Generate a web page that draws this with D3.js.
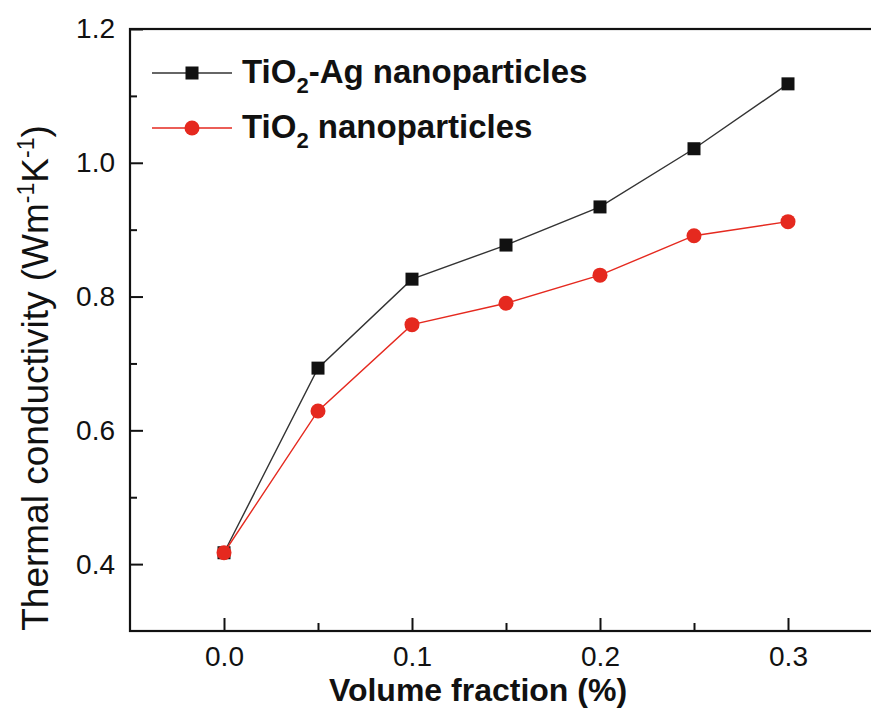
<!DOCTYPE html>
<html>
<head>
<meta charset="utf-8">
<script src="https://cdn.jsdelivr.net/npm/d3@7"></script>
<style>
	body { margin: 0; background: #fff; }
	svg { display: block; font-family: "Liberation Sans", Arial, sans-serif; }
</style>
</head>
<body>
<svg id="chart" width="871" height="708"></svg>
<script>

// volume fraction (%)
const FRACTIONS = [0.0, 0.05, 0.10, 0.15, 0.20, 0.25, 0.30];

// thermal conductivity (W m-1 K-1)
const TIO2_AG = [0.417, 0.693, 0.826, 0.877, 0.934, 1.021, 1.118];
const TIO2 = [0.417, 0.629, 0.758, 0.790, 0.832, 0.891, 0.912];

const X_TICKS = [0.0, 0.1, 0.2, 0.3];
const X_MINOR = [0.05, 0.15, 0.25];
const Y_TICKS = [0.4, 0.6, 0.8, 1.0, 1.2];
const Y_MINOR = [0.5, 0.7, 0.9, 1.1];

const X_DOMAIN = [-0.05, 0.35];
const Y_DOMAIN = [0.3, 1.2];

const BLACK = '#111';
const LINE_BLACK = '#333';
const RED = '#e5291f';

class Chart {

	constructor(element){
		this.svg = d3.select(element);
		this.left = 130;
		this.right = 882; // frame runs off the right edge, like the source image
		this.top = 29;
		this.bottom = 631;

		this.x = d3.scaleLinear().domain(X_DOMAIN).range([this.left, this.right]);
		this.y = d3.scaleLinear().domain(Y_DOMAIN).range([this.bottom, this.top]);
	}

	draw(){
		this.drawAxes();
		this.drawSeries(TIO2_AG, LINE_BLACK, BLACK, 'square');
		this.drawSeries(TIO2, RED, RED, 'circle');
		this.drawLegend();
		this.drawTitles();
	}

	drawAxes(){
		let yAxis = d3.axisLeft(this.y)
			.tickValues(Y_TICKS)
			.tickFormat(d3.format('.1f'))
			.tickSizeInner(-13)
			.tickSizeOuter(0)
			.tickPadding(15);
		let yMinor = d3.axisLeft(this.y)
			.tickValues(Y_MINOR)
			.tickFormat('')
			.tickSizeInner(-7)
			.tickSizeOuter(0);
		let xAxis = d3.axisBottom(this.x)
			.tickValues(X_TICKS)
			.tickFormat(d3.format('.1f'))
			.tickSizeInner(-13)
			.tickSizeOuter(0)
			.tickPadding(15);
		let xMinor = d3.axisBottom(this.x)
			.tickValues(X_MINOR)
			.tickFormat('')
			.tickSizeInner(-8)
			.tickSizeOuter(0);

		let list = [
			[yAxis, `translate(${this.left},0)`],
			[yMinor, `translate(${this.left},0)`],
			[xAxis, `translate(0,${this.bottom})`],
			[xMinor, `translate(0,${this.bottom})`]
		];
		for(let i = 0; i < list.length; i++){
			let g = this.svg.append('g')
				.attr('transform', list[i][1])
				.call(list[i][0]);
			g.select('.domain').remove();
			g.selectAll('line').attr('stroke', BLACK).attr('stroke-width', 2);
			g.selectAll('text')
				.attr('fill', BLACK)
				.style('font-size', '28px')
				.style('font-family', '"Liberation Sans", Arial, sans-serif');
		}

		// frame
		this.svg.append('rect')
			.attr('x', this.left)
			.attr('y', this.top)
			.attr('width', this.right - this.left)
			.attr('height', this.bottom - this.top)
			.attr('fill', 'none')
			.attr('stroke', BLACK)
			.attr('stroke-width', 2.2);
	}

	drawSeries(values, lineColor, color, shape){
		let points = FRACTIONS.map((f, i) => [f, values[i]]);
		let line = d3.line()
			.x(d => this.x(d[0]))
			.y(d => this.y(d[1]));

		this.svg.append('path')
			.datum(points)
			.attr('d', line)
			.attr('fill', 'none')
			.attr('stroke', lineColor)
			.attr('stroke-width', 1.4);

		this.drawMarkers(points.map(d => [this.x(d[0]), this.y(d[1])]), color, shape);
	}

	drawMarkers(coords, color, shape){
		if(shape == 'square'){
			this.svg.append('g').selectAll('rect')
				.data(coords)
				.join('rect')
				.attr('x', d => d[0] - 6.5)
				.attr('y', d => d[1] - 6.5)
				.attr('width', 13)
				.attr('height', 13)
				.attr('fill', color);
		} else {
			this.svg.append('g').selectAll('circle')
				.data(coords)
				.join('circle')
				.attr('cx', d => d[0])
				.attr('cy', d => d[1])
				.attr('r', 7.5)
				.attr('fill', color);
		}
	}

	drawLegend(){
		let rows = [
			{line: LINE_BLACK, color: BLACK, shape: 'square', y: 73, parts: ['TiO', '2', '-Ag nanoparticles']},
			{line: RED, color: RED, shape: 'circle', y: 128, parts: ['TiO', '2', ' nanoparticles']}
		];
		for(let i = 0; i < rows.length; i++){
			let r = rows[i];
			this.svg.append('line')
				.attr('x1', 152).attr('x2', 232)
				.attr('y1', r.y).attr('y2', r.y)
				.attr('stroke', r.line)
				.attr('stroke-width', 1.4);
			this.drawMarkers([[192, r.y]], r.color, r.shape);

			let t = this.svg.append('text')
				.attr('x', 242)
				.attr('y', r.y + 10)
				.attr('fill', BLACK)
				.style('font-size', '33px')
				.style('font-weight', 'bold');
			t.append('tspan').text(r.parts[0]);
			t.append('tspan').attr('dy', 10).style('font-size', '22px').text(r.parts[1]);
			t.append('tspan').attr('dy', -10).text(r.parts[2]);
		}
	}

	drawTitles(){
		this.svg.append('text')
			.attr('x', 478)
			.attr('y', 701)
			.attr('text-anchor', 'middle')
			.attr('fill', BLACK)
			.style('font-size', '32px')
			.style('font-weight', 'bold')
			.text('Volume fraction (%)');

		let yt = this.svg.append('text')
			.attr('transform', 'translate(48,378) rotate(-90)')
			.attr('text-anchor', 'middle')
			.attr('fill', BLACK)
			.style('font-size', '37px');
		yt.append('tspan').text('Thermal conductivity (Wm');
		yt.append('tspan').attr('dy', -14).style('font-size', '23px').text('-1');
		yt.append('tspan').attr('dy', 14).text('K');
		yt.append('tspan').attr('dy', -14).style('font-size', '23px').text('-1');
		yt.append('tspan').attr('dy', 14).text(')');
	}

}

let chart = new Chart('#chart');
chart.draw();

</script>
</body>
</html>
